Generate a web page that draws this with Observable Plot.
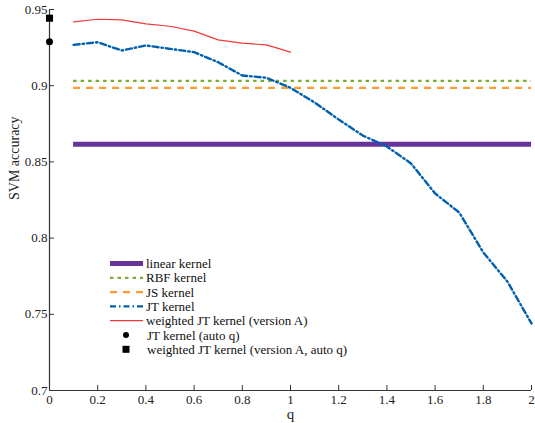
<!DOCTYPE html>
<html><head><meta charset="utf-8">
<script src="https://cdn.jsdelivr.net/npm/d3@7"></script>
<script src="https://cdn.jsdelivr.net/npm/@observablehq/plot@0.6"></script>
<style>
body{margin:0;background:#fff}
#wrap{position:relative;width:535px;height:423px;font-family:'Liberation Serif','DejaVu Serif',serif}
#wrap svg, #wrap text{font-family:'Liberation Serif','DejaVu Serif',serif !important}
#legend{position:absolute;left:0;top:0}
</style>
</head><body><div id="wrap"></div>
<script>
// ---- data ----
const qJT = [0.1,0.2,0.3,0.4,0.5,0.6,0.7,0.8,0.9,1.0,1.1,1.2,1.3,1.4,1.5,1.6,1.7,1.8,1.9,2.0];
const accJT = [0.9268,0.9285,0.9231,0.9264,0.9242,0.9220,0.9154,0.9067,0.9052,0.8986,0.8890,0.8778,0.8673,0.8601,0.8490,0.8293,0.8168,0.7906,0.7715,0.7440];
const qW = [0.1,0.2,0.3,0.4,0.5,0.6,0.7,0.8,0.9,1.0];
const accW = [0.9419,0.9436,0.9432,0.9406,0.9390,0.9358,0.9301,0.9279,0.9268,0.9220];
const accLinear = 0.8616;
const accRBF = 0.9032;
const accJS = 0.8986;
const autoJT = 0.9288;
const autoW = 0.9443;
const xTicks = [0,0.2,0.4,0.6,0.8,1,1.2,1.4,1.6,1.8,2];
const yTicks = [0.7,0.75,0.8,0.85,0.9,0.95];
const legendLabels = ["linear kernel","RBF kernel","JS kernel","JT kernel","weighted JT kernel (version A)","JT kernel (auto q)","weighted JT kernel (version A, auto q)"];

const C = {linear:"#66339b", rbf:"#77ac30", js:"#ff9933", jt:"#0060b0", w:"#f03a3a", k:"#000"};
const FONT = "'Liberation Serif', 'DejaVu Serif', serif";
const fmt = d => String(+(+d).toFixed(2));
const qMin = qJT[0], qMax = qJT[qJT.length-1];

const chart = Plot.plot({
  width: 535, height: 423,
  marginLeft: 49, marginRight: 4, marginTop: 9, marginBottom: 33,
  style: {fontFamily: FONT, fontSize: "13px", color: "#222", background: "#fff"},
  x: {domain: [0, 2]},
  y: {domain: [0.7, 0.95]},
  marks: [
    Plot.axisX({ticks: xTicks, tickSize: 0, tickPadding: 4, tickFormat: fmt, label: null, fontSize: 13}),
    Plot.axisX({ticks: xTicks, tickSize: -5, tickFormat: () => "", label: null, stroke: "#333"}),
    Plot.axisY({ticks: yTicks, tickSize: 0, tickPadding: 2, tickFormat: fmt, label: null, fontSize: 13}),
    Plot.axisY({ticks: yTicks, tickSize: -5, tickFormat: () => "", label: null, stroke: "#333"}),
    Plot.ruleX([0], {stroke: "#333", strokeWidth: 1.2}),
    Plot.ruleY([0.7], {stroke: "#333", strokeWidth: 1.2}),
    Plot.ruleY([accLinear], {x1: qMin, x2: qMax, stroke: C.linear, strokeWidth: 5}),
    Plot.ruleY([accRBF], {x1: qMin, x2: qMax, stroke: C.rbf, strokeWidth: 2.2, strokeDasharray: "3.5,4"}),
    Plot.ruleY([accJS], {x1: qMin, x2: qMax, stroke: C.js, strokeWidth: 2.2, strokeDasharray: "7,6"}),
    Plot.line(qJT.map((q,i)=>({q, a: accJT[i]})), {x: "q", y: "a", stroke: C.jt, strokeWidth: 2.4, strokeDasharray: "6,3,1.5,3"}),
    Plot.line(qW.map((q,i)=>({q, a: accW[i]})), {x: "q", y: "a", stroke: C.w, strokeWidth: 1.2}),
    Plot.dot([autoJT], {x: 0, y: d => d, r: 3.5, fill: C.k, stroke: "none"}),
    Plot.dot([autoW], {x: 0, y: d => d, r: 4, symbol: "square", fill: C.k, stroke: "none"}),
    Plot.text(["SVM accuracy"], {frameAnchor: "left", dx: -35, rotate: -90, fontSize: 14}),
    Plot.text(["q"], {frameAnchor: "bottom", lineAnchor: "middle", dy: 24, fontSize: 15})
  ]
});
const wrap = document.getElementById("wrap");
wrap.appendChild(chart);

// ---- legend overlay ----
const lg = d3.select(wrap).append("svg").attr("id","legend").attr("width",535).attr("height",423)
  .style("font-family", FONT).style("font-size","13px");
const rows = [
  {type:"line", stroke:C.linear, w:5, dash:null},
  {type:"line", stroke:C.rbf, w:2.2, dash:"3.5,4"},
  {type:"line", stroke:C.js, w:2.2, dash:"7,6"},
  {type:"line", stroke:C.jt, w:2.4, dash:"6,3,1.5,3"},
  {type:"line", stroke:C.w, w:1.2, dash:null},
  {type:"circle"},
  {type:"square"}
];
const y0 = 263.5, dy = 14.3;
rows.forEach((r,i) => {
  const y = y0 + i*dy;
  if (r.type === "line") {
    const l = lg.append("line").attr("x1",110).attr("x2",143).attr("y1",y).attr("y2",y)
      .attr("stroke",r.stroke).attr("stroke-width",r.w);
    if (r.dash) l.attr("stroke-dasharray", r.dash);
  } else if (r.type === "circle") {
    lg.append("circle").attr("cx",126).attr("cy",y).attr("r",3).attr("fill","#000");
  } else {
    lg.append("rect").attr("x",122.5).attr("y",y-3.5).attr("width",7).attr("height",7).attr("fill","#000");
  }
  lg.append("text").attr("x", i >= 5 ? 147 : 146).attr("y", y).attr("dy","0.35em").attr("fill","#111")
    .text(legendLabels[i]);
});
</script>
</body></html>
